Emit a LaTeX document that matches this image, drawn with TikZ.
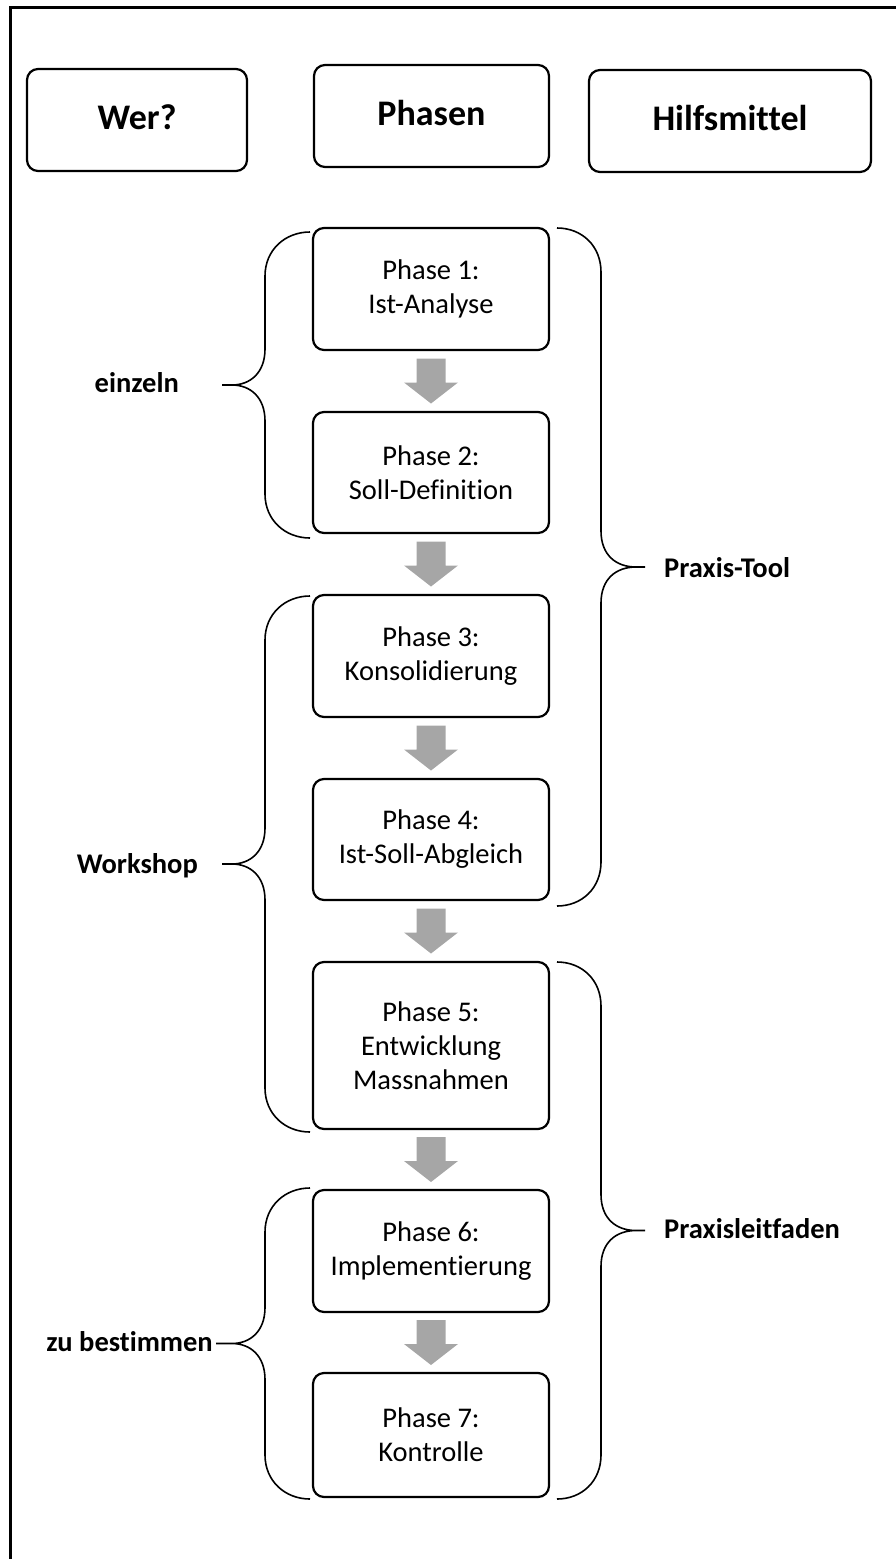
\documentclass[tikz,border=0pt]{standalone}
\usepackage{fontspec}
\setmainfont{Carlito}[Ligatures=NoCommon]
\usetikzlibrary{calc}
\definecolor{arrgray}{RGB}{166,166,166}
\tikzset{
  phasebox/.style={draw, line width=2.2pt, rounded corners=11pt, minimum width=236pt,
    align=center, inner sep=0pt, font=\fontsize{28.5}{34}\selectfont},
  headbox/.style={draw, line width=2.2pt, rounded corners=11pt, minimum height=102pt,
    inner sep=0pt, text height=26pt, text depth=7pt, font=\bfseries\fontsize{36}{42}\selectfont},
  sidelabel/.style={inner sep=0pt, text height=21pt, text depth=5pt,
    font=\bfseries\fontsize{28.5}{34}\selectfont},
  bracestroke/.style={line width=1.6pt},
  frameline/.style={line width=3pt},
  downarrow/.pic={\fill[arrgray] (-14.5,-22.5) -- (14.5,-22.5) -- (14.5,1.5) -- (27,1.5)
    -- (0,22.5) -- (-27,1.5) -- (-14.5,1.5) -- cycle;}
}
% left brace: #1 top, #2 bottom, #3 tip x
\newcommand\leftbrace[3]{%
  \draw[bracestroke] (310,#1) .. controls (285,#1) and (265,{#1+18}) .. (265,{#1+44})
    -- (265,{(#1+#2)/2-36}) .. controls (265,{(#1+#2)/2-12}) and (250,{(#1+#2)/2}) .. (232,{(#1+#2)/2})
    -- (#3,{(#1+#2)/2})
    -- (232,{(#1+#2)/2}) .. controls (250,{(#1+#2)/2}) and (265,{(#1+#2)/2+12}) .. (265,{(#1+#2)/2+36})
    -- (265,{#2-44}) .. controls (265,{#2-18}) and (285,#2) .. (310,#2);}
% right brace: #1 top, #2 bottom, #3 tip x
\newcommand\rightbrace[3]{%
  \draw[bracestroke] (557,#1) .. controls (582,#1) and (601,{#1+18}) .. (601,{#1+44})
    -- (601,{(#1+#2)/2-36}) .. controls (601,{(#1+#2)/2-12}) and (616,{(#1+#2)/2}) .. (636,{(#1+#2)/2})
    -- (#3,{(#1+#2)/2})
    -- (636,{(#1+#2)/2}) .. controls (616,{(#1+#2)/2}) and (601,{(#1+#2)/2+12}) .. (601,{(#1+#2)/2+36})
    -- (601,{#2-44}) .. controls (601,{#2-18}) and (582,#2) .. (557,#2);}

\begin{document}
\begin{tikzpicture}[x=1pt,y=-1pt]
\useasboundingbox (0,0) rectangle (896,1559);
\draw[frameline] (10,1562) -- (10,7) -- (899,7);

% header
\node[headbox, minimum width=220pt] (wer) at (137,120) {Wer?};
\node[headbox, minimum width=235pt] (phasen) at (431.5,116) {Phasen};
\node[headbox, minimum width=282pt] (hilfs) at (730,121) {Hilfsmittel};

% phases
\node[phasebox, minimum height=122pt] (p1) at (431,289) {Phase 1:\\Ist-Analyse};
\node[phasebox, minimum height=121pt] (p2) at (431,472.5) {Phase 2:\\Soll-Definition};
\node[phasebox, minimum height=122pt] (p3) at (431,656) {Phase 3:\\Konsolidierung};
\node[phasebox, minimum height=121pt] (p4) at (431,839.5) {Phase 4:\\Ist-Soll-Abgleich};
\node[phasebox, minimum height=167pt] (p5) at (431,1045.5) {Phase 5:\\Entwicklung\\Massnahmen};
\node[phasebox, minimum height=122pt] (p6) at (431,1251) {Phase 6:\\Implementierung};
\node[phasebox, minimum height=124pt] (p7) at (431,1435) {Phase 7:\\Kontrolle};

% arrows
\path ($(p1.south)!0.5!(p2.north)$) pic {downarrow};
\path ($(p2.south)!0.5!(p3.north)$) pic {downarrow};
\path ($(p3.south)!0.5!(p4.north)$) pic {downarrow};
\path ($(p4.south)!0.5!(p5.north)$) pic {downarrow};
\path ($(p5.south)!0.5!(p6.north)$) pic {downarrow};
\path ($(p6.south)!0.5!(p7.north)$) pic {downarrow};

% braces
\leftbrace{232}{538}{222}
\leftbrace{596}{1132}{222}
\leftbrace{1188}{1499}{216}
\rightbrace{228}{906}{645}
\rightbrace{962}{1499}{645}

% side labels
\node[sidelabel, anchor=east] (einzeln) at (179,384) {einzeln};
\node[sidelabel, anchor=east] (workshop) at (198,865) {Workshop};
\node[sidelabel, anchor=east] (zubest) at (213,1343) {zu bestimmen};
\node[sidelabel, anchor=west] (ptool) at (664,569) {Praxis-Tool};
\node[sidelabel, anchor=west] (pleit) at (664,1230) {Praxisleitfaden};
\end{tikzpicture}
\end{document}
